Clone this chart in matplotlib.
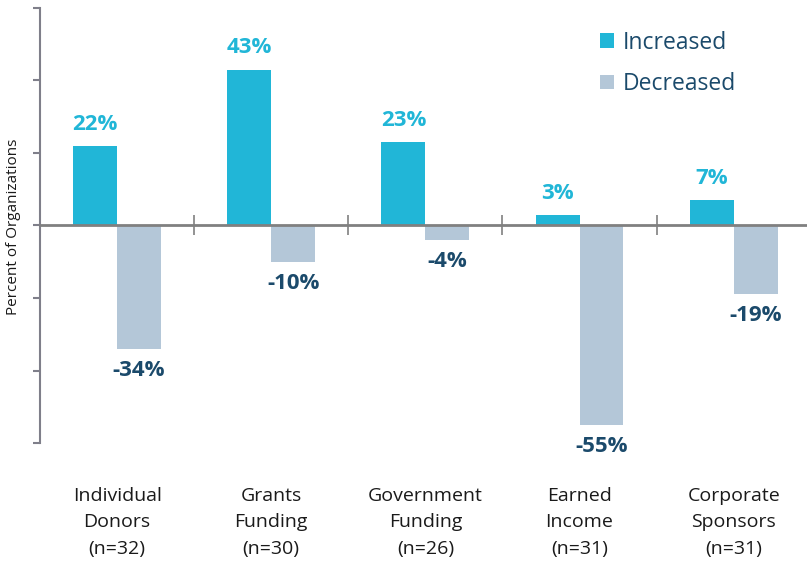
import numpy as np
from matplotlib import pyplot as plt
from matplotlib.transforms import blended_transform_factory

plt.rcParams['font.family'] = ['Open Sans', 'DejaVu Sans']

categories = ['Individual\nDonors\n(n=32)', 'Grants\nFunding\n(n=30)',
              'Government\nFunding\n(n=26)', 'Earned\nIncome\n(n=31)',
              'Corporate\nSponsors\n(n=31)']
increased = [22, 43, 23, 3, 7]
decreased = [-34, -10, -4, -55, -19]

c_inc = '#21B6D7'
c_dec = '#B4C7D8'
c_navy = '#1B4A6B'
c_axis = '#7F7F8A'

fig = plt.figure(figsize=(8.07, 5.66), dpi=100)
ax = fig.add_axes([0.0496, 0.2173, 0.955, 0.7686])

x = np.arange(len(categories))
w = 0.285
b1 = ax.bar(x - w/2, increased, w, color=c_inc, label='Increased')
b2 = ax.bar(x + w/2, decreased, w, color=c_dec, label='Decreased')

for xi, v in zip(x, increased):
    ax.annotate(f'{v}%', (xi - w/2, v), xytext=(0, 8), textcoords='offset points',
                ha='center', va='bottom', fontsize=16, fontweight='bold', color=c_inc)
for xi, v in zip(x, decreased):
    ax.annotate(f'{v}%', (xi + w/2, v), xytext=(0, -8), textcoords='offset points',
                ha='center', va='top', fontsize=16, fontweight='bold', color=c_navy)

ax.set_xlim(-0.5, 4.5)
ax.set_ylim(-60, 60)
ax.set_yticks([-60, -40, -20, 0, 20, 40, 60])
ax.set_yticklabels([])
ax.tick_params(axis='y', direction='out', length=5, width=1.5, color=c_axis)

ax.spines['top'].set_visible(False)
ax.spines['right'].set_visible(False)
ax.spines['left'].set_color(c_axis)
ax.spines['left'].set_linewidth(1.5)
ax.spines['bottom'].set_position(('data', 0))
ax.spines['bottom'].set_color('#808080')
ax.spines['bottom'].set_linewidth(2)
ax.set_xticks(x[:-1] + 0.5)
ax.set_xticklabels([])
ax.tick_params(axis='x', direction='inout', length=14, width=1.2, color='#808080')

trans = blended_transform_factory(ax.transData, ax.transAxes)
for xi, lab in zip(x, categories):
    ax.text(xi, -0.1, lab, transform=trans, ha='center', va='top',
            fontsize=14, color='#1a1a1a', linespacing=1.62)

fig.text(14/807, 0.6, 'Percent of Organizations', rotation=90, ha='center',
         va='center', fontsize=11, color='#1a1a1a')

ax.legend(handles=[b1, b2], loc='upper left', bbox_to_anchor=(0.7, 0.995),
          frameon=False, fontsize=16.5, labelcolor=c_navy, handlelength=0.6,
          handleheight=0.6, handletextpad=0.4, labelspacing=0.75)

fig.savefig('out.png', dpi=100)
